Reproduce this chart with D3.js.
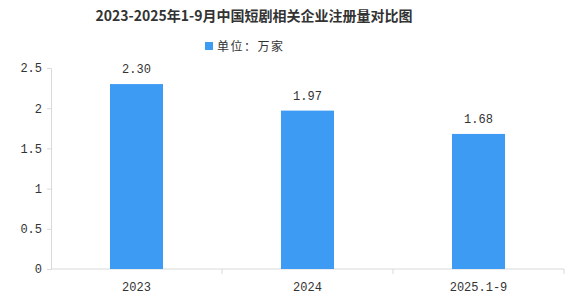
<!DOCTYPE html>
<html>
<head>
<meta charset="utf-8">
<script src="https://cdn.jsdelivr.net/npm/d3@7"></script>
<style>
  body { margin: 0; background: #fff; }
  svg text { fill: #333; }
</style>
</head>
<body>
<div id="chart"></div>
<script>
const width = 579;
const height = 296;

const categories = ["2023", "2024", "2025.1-9"];
const values = [2.30, 1.97, 1.68];
const yTicks = [0, 0.5, 1, 1.5, 2, 2.5];
const yTickLabels = ["0", "0.5", "1", "1.5", "2", "2.5"];

const margin = { top: 68, right: 15, bottom: 27, left: 51 };
const numFont = "'Liberation Mono', 'DejaVu Sans Mono', monospace";
const cjkFont = "'Noto Sans CJK SC', sans-serif";

const svg = d3.select("#chart")
    .append("svg")
    .attr("width", width)
    .attr("height", height);

// 标题
svg.append("text")
    .attr("x", 254)
    .attr("y", 21)
    .attr("text-anchor", "middle")
    .style("font-family", cjkFont)
    .style("font-size", "14px")
    .style("font-weight", "bold")
    .attr("fill", "#222")
    .text("2023-2025年1-9月中国短剧相关企业注册量对比图");

// 图例
svg.append("rect")
    .attr("x", 205).attr("y", 42)
    .attr("width", 8).attr("height", 8)
    .attr("fill", "#3d9bf3");
svg.append("text")
    .attr("x", 217).attr("y", 51)
    .style("font-family", cjkFont)
    .style("font-size", "12px")
    .style("letter-spacing", "1.5px")
    .text("单位：万家");

const x = d3.scaleBand()
    .domain(categories)
    .range([margin.left, width - margin.right])
    .paddingInner(0.69)
    .paddingOuter(0.345);

const y = d3.scaleLinear()
    .domain([0, 2.5])
    .range([height - margin.bottom, margin.top]);

// y 轴
const yAxis = svg.append("g")
    .attr("transform", `translate(${margin.left},0)`)
    .call(d3.axisLeft(y).tickValues(yTicks)
        .tickFormat((d, i) => yTickLabels[i]).tickSize(4).tickPadding(5));
yAxis.select(".domain").attr("stroke", "#d9d9d9");
yAxis.selectAll(".tick line").attr("stroke", "#d9d9d9");
yAxis.selectAll(".tick text")
    .style("font-family", numFont)
    .style("font-size", "12px")
    .attr("fill", "#333");

// x 轴
const step = x.step();
const xBoundaries = d3.range(categories.length + 1).map(i => margin.left + i * step);
svg.append("line")
    .attr("x1", margin.left).attr("x2", width - margin.right)
    .attr("y1", y(0)).attr("y2", y(0))
    .attr("stroke", "#d9d9d9");
svg.selectAll(".xtick")
    .data(xBoundaries.slice(1))
    .enter().append("line")
    .attr("x1", d => d).attr("x2", d => d)
    .attr("y1", y(0)).attr("y2", y(0) + 5)
    .attr("stroke", "#d9d9d9");
svg.selectAll(".xlabel")
    .data(categories)
    .enter().append("text")
    .attr("x", d => x(d) + x.bandwidth() / 2)
    .attr("y", y(0) + 22)
    .attr("text-anchor", "middle")
    .style("font-family", numFont)
    .style("font-size", "12px")
    .text(d => d);

// 柱子
svg.selectAll(".bar")
    .data(values)
    .enter().append("rect")
    .attr("x", (d, i) => x(categories[i]))
    .attr("y", d => y(d))
    .attr("width", x.bandwidth())
    .attr("height", d => y(0) - y(d))
    .attr("fill", "#3d9bf3");

// 数值标签
svg.selectAll(".val")
    .data(values)
    .enter().append("text")
    .attr("x", (d, i) => x(categories[i]) + x.bandwidth() / 2)
    .attr("y", d => y(d) - 11)
    .attr("text-anchor", "middle")
    .style("font-family", numFont)
    .style("font-size", "12px")
    .text(d => d.toFixed(2));
</script>
</body>
</html>
